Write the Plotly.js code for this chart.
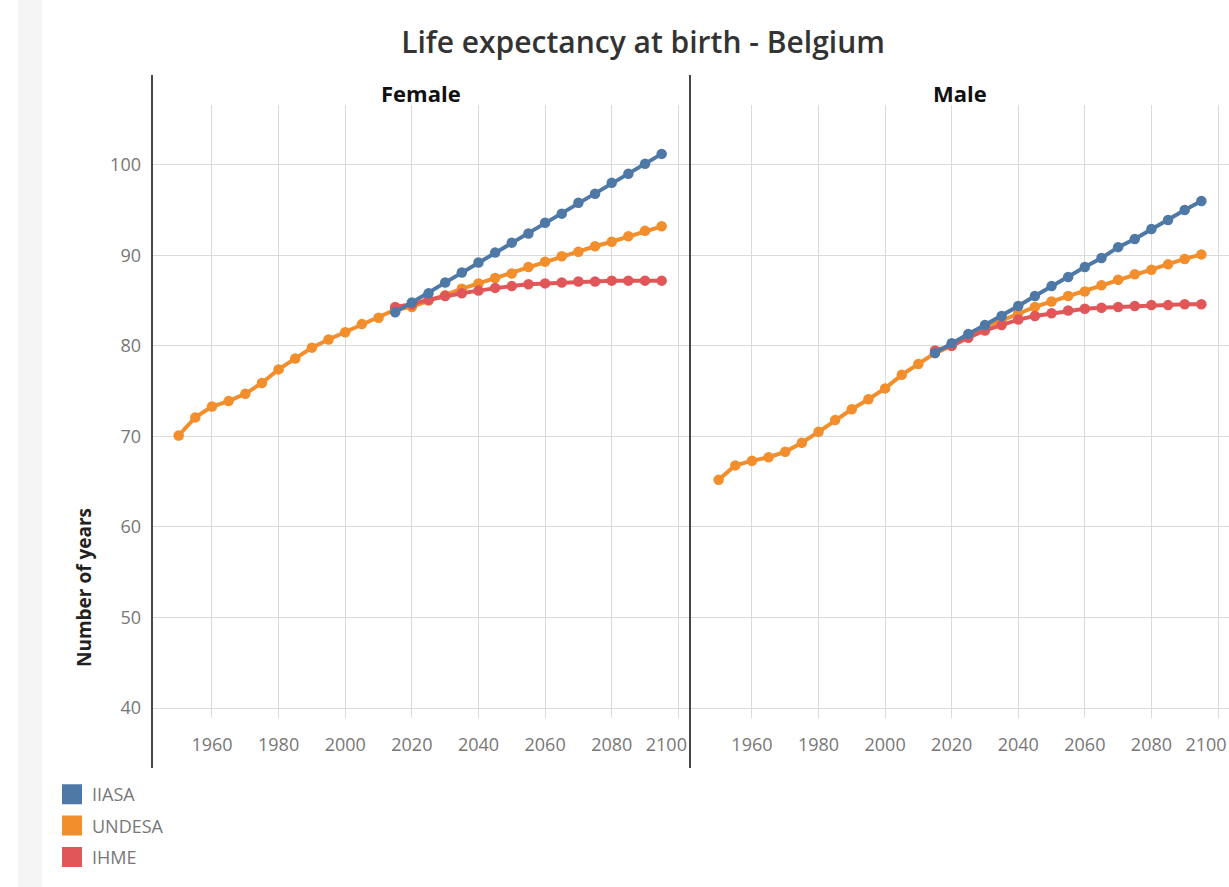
<!DOCTYPE html>
<html>
<head>
<meta charset="utf-8">
<script src="https://cdn.plot.ly/plotly-3.0.1.min.js"></script>
<style>html,body{margin:0;padding:0;background:#fff;}#chart{width:1229px;height:887px;}</style>
</head>
<body>
<div id="chart"></div>
<script>
// Years (5-year steps)
const yearsHist = [1950,1955,1960,1965,1970,1975,1980,1985,1990,1995,2000,2005,2010,2015,2020,2025,2030,2035,2040,2045,2050,2055,2060,2065,2070,2075,2080,2085,2090,2095];
const yearsProj = [2015,2020,2025,2030,2035,2040,2045,2050,2055,2060,2065,2070,2075,2080,2085,2090,2095];

// Female
const femaleUNDESA = [70.1,72.1,73.3,73.9,74.7,75.9,77.4,78.6,79.8,80.7,81.5,82.4,83.1,84.0,84.3,85.0,85.6,86.3,86.9,87.5,88.0,88.7,89.3,89.9,90.4,91.0,91.5,92.1,92.7,93.2];
const femaleIIASA  = [83.7,84.8,85.8,87.0,88.1,89.2,90.3,91.4,92.4,93.6,94.6,95.8,96.8,98.0,99.0,100.1,101.2];
const femaleIHME   = [84.3,84.6,85.1,85.5,85.8,86.1,86.4,86.6,86.8,86.9,87.0,87.1,87.1,87.2,87.2,87.2,87.2];

// Male
const maleUNDESA = [65.2,66.8,67.3,67.7,68.3,69.3,70.5,71.8,73.0,74.1,75.3,76.8,78.0,79.2,80.0,81.1,82.1,82.8,83.6,84.3,84.9,85.5,86.0,86.7,87.3,87.9,88.4,89.0,89.6,90.1];
const maleIIASA  = [79.2,80.3,81.3,82.3,83.3,84.4,85.5,86.6,87.6,88.7,89.7,90.9,91.8,92.9,93.9,95.0,96.0];
const maleIHME   = [79.5,80.0,80.9,81.7,82.3,82.9,83.3,83.6,83.9,84.1,84.2,84.3,84.4,84.5,84.5,84.6,84.6];

const seriesNames = ['IIASA','UNDESA','IHME'];
const seriesColors = {IIASA:'#4e79a7', UNDESA:'#f28e2b', IHME:'#e15759'};
const panels = ['Female','Male'];
const xTicks = [1960,1980,2000,2020,2040,2060,2080,2100];
const xTickText = ['1960','1980','2000','2020','2040','2060','2080','2100'];
const yTicks = [40,50,60,70,80,90,100];

const FONT = 'Open Sans, Lato, sans-serif';

function line(name, x, y, xa) {
  return {
    type:'scatter', mode:'lines+markers', name:name, x:x, y:y,
    xaxis:xa, yaxis:'y', legendgroup:name, showlegend:false,
    line:{color:seriesColors[name], width:4},
    marker:{color:seriesColors[name], size:10.5},
    hovertemplate: name + ': %{y}<extra>%{x}</extra>'
  };
}

const traces = [
  line('UNDESA', yearsHist, femaleUNDESA, 'x'),
  line('IHME', yearsProj, femaleIHME, 'x'),
  line('IIASA', yearsProj, femaleIIASA, 'x'),
  line('UNDESA', yearsHist, maleUNDESA, 'x2'),
  line('IHME', yearsProj, maleIHME, 'x2'),
  line('IIASA', yearsProj, maleIIASA, 'x2')
];
// empty helper traces so the overlay axes (last tick label) are drawn
['x3','x4'].forEach(xa => traces.push({type:'scatter', mode:'markers', x:[null], y:[null],
  xaxis:xa, yaxis:'y', showlegend:false, hoverinfo:'skip'}));
// legend entries
seriesNames.forEach(n => traces.push({
  type:'scatter', mode:'markers', name:n, x:[null], y:[null], xaxis:'x', yaxis:'y',
  legendgroup:n, showlegend:true,
  marker:{symbol:'square', size:16, color:seriesColors[n], line:{color:seriesColors[n], width:4}}
}));

// pixel helpers: plot area 152..1229 x, 105..718 y
const PL=152, PR=1229, PT=105, PB=718;
const px = v => (v-PL)/(PR-PL);
const py = v => (PB-v)/(PB-PT);

const nTick = xTicks.length;
const mainText = xTickText.map((t,i) => i === nTick-1 ? '' : t);   // last label drawn by overlay axis
const tickFont = {family:FONT, size:18, color:'#777'};

const xaxisBase = {
  tickvals:xTicks, ticktext:mainText, showgrid:true, gridcolor:'#dadada', gridwidth:1.3,
  zeroline:false, showline:false, ticks:'', ticklabelstandoff:14,
  tickfont:tickFont, fixedrange:true, anchor:'y'
};
const lastTickAxis = {
  tickvals:[xTicks[nTick-1]], ticktext:[xTickText[nTick-1]], showgrid:false, zeroline:false,
  showline:false, ticks:'', ticklabelstandoff:14, ticklabelshift:-12, tickfont:tickFont,
  fixedrange:true, anchor:'y'
};
const rangeL = [1942, 2103.5], rangeR = [1941.4, 2103.3];

const layout = {
  width:1229, height:887,
  margin:{l:PL, r:1229-PR, t:PT, b:887-PB},
  paper_bgcolor:'#fff', plot_bgcolor:'#fff',
  font:{family:FONT, color:'#777'},
  title:{text:'Life expectancy at birth - Belgium', x:643/1229, xref:'container', xanchor:'center',
         y:1-42/887, yref:'container', yanchor:'middle',
         font:{family:FONT, size:30, weight:600, color:'#333'}},
  xaxis:Object.assign({}, xaxisBase, {domain:[0, px(690)], range:rangeL}),
  xaxis2:Object.assign({}, xaxisBase, {domain:[px(690), 1], range:rangeR}),
  xaxis3:Object.assign({}, lastTickAxis, {overlaying:'x', domain:[0, px(690)], range:rangeL}),
  xaxis4:Object.assign({}, lastTickAxis, {overlaying:'x2', domain:[px(690), 1], range:rangeR}),
  yaxis:{range:[38.9, 106.6], tickvals:yTicks, showgrid:true, gridcolor:'#dadada', gridwidth:1.3,
         zeroline:false, showline:false, ticks:'', ticklabelstandoff:10,
         tickfont:tickFont, fixedrange:true},
  showlegend:true,
  legend:{x:px(52), xanchor:'left', y:py(776), yanchor:'top', orientation:'v',
          traceorder:'grouped', tracegroupgap:5,
          font:{family:FONT, size:18, color:'#777'}, bgcolor:'rgba(0,0,0,0)'},
  shapes:[
    {type:'rect', xref:'paper', yref:'paper', x0:px(18), x1:px(42), y0:py(887), y1:py(0),
     fillcolor:'#f5f5f5', line:{width:0}, layer:'below'},
    {type:'line', xref:'paper', yref:'paper', x0:px(152), x1:px(152), y0:py(768), y1:py(75),
     line:{color:'#333', width:1.8}},
    {type:'line', xref:'paper', yref:'paper', x0:px(690), x1:px(690), y0:py(768), y1:py(75),
     line:{color:'#333', width:1.8}}
  ],
  annotations:[
    {text:panels[0], xref:'paper', yref:'paper', x:(px(152)+px(690))/2, y:py(93), showarrow:false,
     xanchor:'center', yanchor:'middle', font:{family:FONT, size:22, weight:700, color:'#111'}},
    {text:panels[1], xref:'paper', yref:'paper', x:(px(690)+1)/2, y:py(93), showarrow:false,
     xanchor:'center', yanchor:'middle', font:{family:FONT, size:22, weight:700, color:'#111'}},
    {text:'Number of years', xref:'paper', yref:'paper', x:px(84), y:py(588), showarrow:false,
     textangle:-90, xanchor:'center', yanchor:'middle', font:{family:FONT, size:19, weight:700, color:'#222'}}
  ],
  hovermode:'closest'
};

Plotly.newPlot('chart', traces, layout, {displayModeBar:false, responsive:false});
</script>
</body>
</html>
